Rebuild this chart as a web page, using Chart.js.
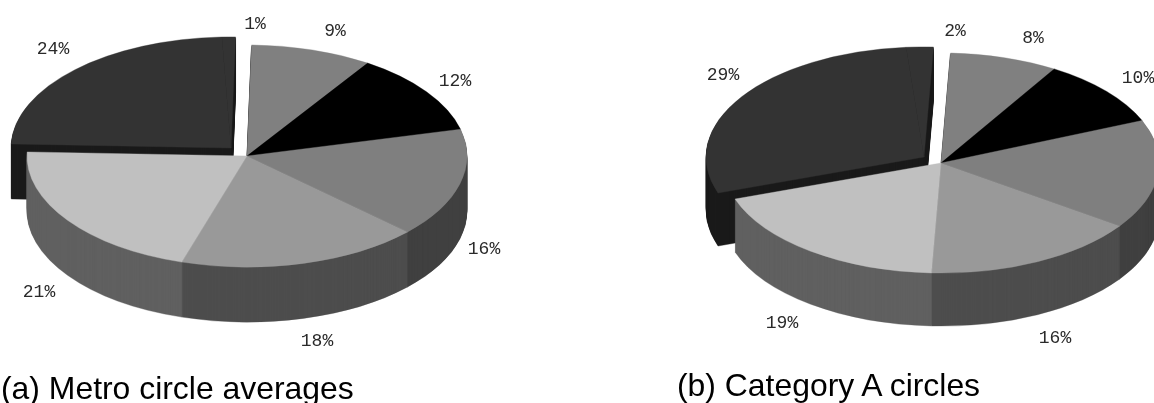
<!DOCTYPE html>
<html>
<head>
<meta charset="utf-8">
<script src="https://cdn.jsdelivr.net/npm/chart.js@4"></script>
<style>
    html, body { margin: 0; background: #fff; overflow: hidden; }
    #page { position: relative; width: 1154px; height: 403px; overflow: hidden; }
    canvas { position: absolute; top: 0; }
    #metroChart { left: 0; }
    #categoryChart { left: 577px; }
    .caption { position: absolute; font: 31.9px "Liberation Sans", Arial, sans-serif; color: #000; white-space: nowrap; }
</style>
</head>
<body>
<div id="page">
    <canvas id="metroChart" width="577" height="403"></canvas>
    <canvas id="categoryChart" width="577" height="403"></canvas>
    <div class="caption" style="left: 1px; top: 370px">(a) Metro circle averages</div>
    <div class="caption" style="left: 677px; top: 367px">(b) Category A circles</div>
</div>
<script>
// slice shares, clockwise from the top; the last one is the thin slice next to the pulled-out one
const metroValues = [9, 12, 16, 18, 21, 24, 1];
const categoryValues = [8, 10, 16, 16, 19, 29, 2];

const topColors = ['#808080', '#000000', '#7f7f7f', '#999999', '#c0c0c0', '#333333', '#333333'];
const sideColors = ['#404040', '#000000', '#404040', '#4d4d4d', '#606060', '#1a1a1a', '#1a1a1a'];

// label anchors in canvas pixels, null means the label falls outside the page
const metroLabelPos = [[335, 31], [455, 81], [484, 249], [317, 341], [39, 292], [53, 49], [255, 24]];
const categoryLabelPos = [[456, 38], [561, 78], null, [478, 338], [205, 323], [146, 75], [378, 31]];

// draws the pie flattened with a rim under it, pulled-out slices first
const pie3d = {
    id: 'pie3d',
    beforeDatasetsDraw(chart, args, opts) {
        const ctx = chart.ctx;
        const arcs = chart.getDatasetMeta(0).data;
        const cx = arcs[0].x;
        const cy = arcs[0].y;

        const paint = (arc, color, dx, dy) => {
            const base = arc.options;
            arc.options = { ...base, backgroundColor: color, borderColor: color };
            ctx.save();
            ctx.translate(cx + dx, cy + dy);
            ctx.scale(1, opts.flatten);
            ctx.translate(-cx, -cy);
            arc.draw(ctx);
            ctx.restore();
            arc.options = base;
        };
        const drawGroup = (group, dx, dy) => {
            for (let d = opts.depth; d > 0; d--) {
                group.forEach(i => paint(arcs[i], sideColors[i], dx, dy + d));
            }
            group.forEach(i => paint(arcs[i], topColors[i], dx, dy));
        };

        const pulled = [];
        const rest = [];
        arcs.forEach((a, i) => (opts.pulled.includes(i) ? pulled : rest).push(i));
        drawGroup(pulled, opts.pullX, opts.pullY);
        drawGroup(rest, 0, 0);
        return false;
    },
    // returning false above also skips afterDatasetsDraw, so the labels go here
    afterDraw(chart, args, opts) {
        const ctx = chart.ctx;
        const values = chart.data.datasets[0].data;
        ctx.save();
        ctx.font = '18px "Liberation Mono", monospace';
        ctx.fillStyle = '#2a2a2a';
        ctx.textAlign = 'center';
        ctx.textBaseline = 'middle';
        values.forEach((v, i) => {
            const pos = opts.labelPos[i];
            if (pos) ctx.fillText(v + '%', pos[0], pos[1]);
        });
        ctx.restore();
    },
};

function makePie(id, values, labelPos, padding, radius, rotation, flatten, depth, pullX, pullY) {
    return new Chart(document.getElementById(id), {
        type: 'pie',
        data: {
            labels: values.map(v => v + '%'),
            datasets: [{
                data: values,
                backgroundColor: topColors,
                borderColor: topColors,
                borderWidth: 0.5,
            }],
        },
        options: {
            responsive: false,
            animation: false,
            radius: radius,
            rotation: rotation,
            layout: { padding: padding },
            plugins: {
                legend: { display: false },
                tooltip: { enabled: false },
                pie3d: { flatten, depth, pullX, pullY, pulled: [5, 6], labelPos },
            },
        },
        plugins: [pie3d],
    });
}

makePie('metroChart', metroValues, metroLabelPos, { right: 83, bottom: 91 }, 220, 1.2, 0.505, 55, -16, -8);
makePie('categoryChart', categoryValues, categoryLabelPos, { left: 151, bottom: 77 }, 218, 2.5, 0.505, 53, -17, -6);
</script>
</body>
</html>
